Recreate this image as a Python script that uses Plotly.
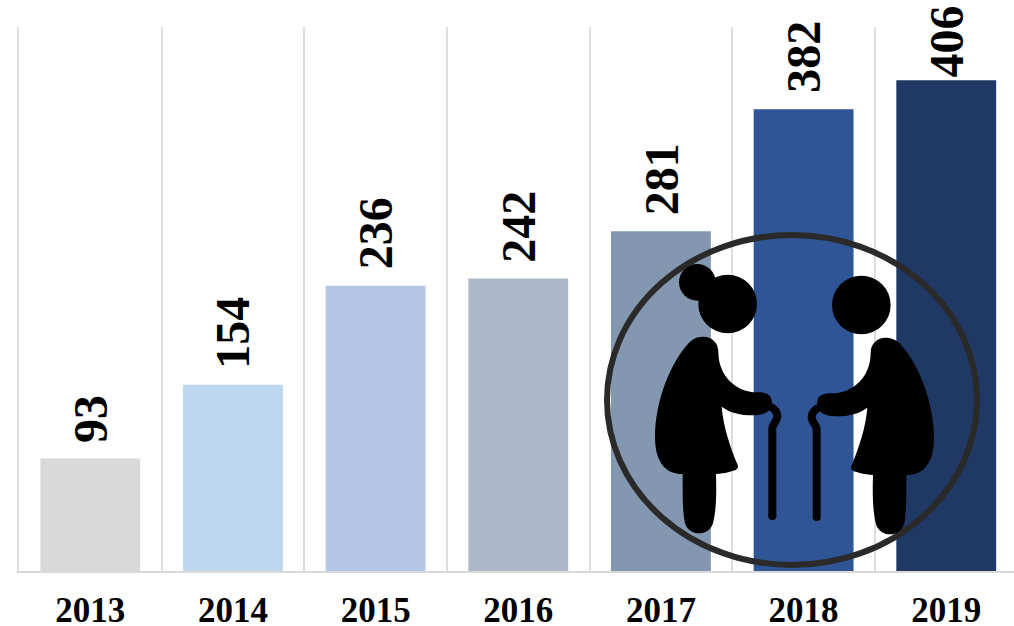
import plotly.graph_objects as go

years = ["2013", "2014", "2015", "2016", "2017", "2018", "2019"]
values = [93, 154, 236, 242, 281, 382, 406]
colors = ["#D9D9D9", "#BDD7EE", "#B4C7E7", "#ADB9CA", "#8497B0", "#2F5597", "#203864"]

W, H = 1014, 626
ML, MT, MB = 19, 27, 55
PW, PH = W - ML, H - MT - MB
FONT = "Liberation Serif"


def px(x):
    return (x - ML) / PW


def py(y):
    return (H - MB - y) / PH


def zoom_pt(x, y, mirror=False):
    # icon outline is drafted on a 3x grid with its origin at pixel (590, 220)
    if mirror:
        x, y = 1227 - x, y + 3
    return f"{px(590 + x / 3):.5f},{py(220 + y / 3):.5f}"


def path(cmds, mirror=False, closed=True):
    out = []
    for c in cmds:
        op, pts = c[0], c[1:]
        out.append(op + " ".join(zoom_pt(a, b, mirror) for a, b in pts))
    return " ".join(out) + (" Z" if closed else "")


body = [
    ("M", (340, 350)),
    ("C", (365, 350), (385, 368), (385, 395)),
    ("C", (385, 470), (440, 516), (500, 517)),
    ("C", (530, 515), (546, 525), (546, 548)),
    ("C", (546, 572), (525, 585), (490, 586)),
    ("C", (450, 586), (420, 578), (395, 560)),
    ("C", (400, 620), (420, 680), (443, 735)),
    ("C", (447, 748), (435, 752), (420, 755)),
    ("C", (405, 759), (390, 761), (378, 762)),
    ("C", (380, 830), (378, 870), (370, 905)),
    ("C", (362, 950), (290, 955), (283, 900)),
    ("C", (277, 860), (278, 810), (278, 762)),
    ("C", (225, 762), (195, 725), (195, 650)),
    ("C", (195, 540), (245, 420), (300, 365)),
    ("C", (312, 354), (325, 350), (340, 350)),
]
cane = [
    ("M", (547, 888)),
    ("L", (547, 625)),
    ("C", (547, 612), (562, 605), (562, 588)),
    ("C", (562, 575), (552, 566), (542, 560)),
]
cane_end = (547, 888)
heads = [(413, 252, 88, False), (322, 187, 55, False), (413, 252, 88, True)]

fig = go.Figure(
    go.Bar(x=years, y=values, marker=dict(color=colors, line=dict(width=0)), width=0.7, showlegend=False)
)

for i, v in enumerate(values):
    fig.add_annotation(
        x=i, y=v, text=f"<b>{v}</b>", textangle=-90, showarrow=False,
        yanchor="bottom", xanchor="center", yshift=1 if v == max(values) else 14,
        font=dict(family=FONT, size=48, color="#000000"),
    )

shapes = []
# icon: the enclosing ring, then the two figures
shapes.append(dict(type="circle", xref="paper", yref="paper", x0=px(607), x1=px(977), y0=py(565), y1=py(235),
                   line=dict(color="#2A2A2A", width=6), fillcolor="rgba(0,0,0,0)"))
for mirror in (False, True):
    shapes.append(dict(type="path", xref="paper", yref="paper", path=path(body, mirror),
                       fillcolor="#000000", line=dict(width=0)))
    shapes.append(dict(type="path", xref="paper", yref="paper", path=path(cane, mirror, closed=False),
                       fillcolor="rgba(0,0,0,0)", line=dict(color="#000000", width=8)))
    cx, cy = cane_end
    if mirror:
        cx, cy = 1227 - cx, cy + 3
    x, y = 590 + cx / 3, 220 + cy / 3
    shapes.append(dict(type="circle", xref="paper", yref="paper", x0=px(x - 4), x1=px(x + 4), y0=py(y + 4), y1=py(y - 4),
                       fillcolor="#000000", line=dict(width=0)))
for cx, cy, r, mirror in heads:
    if mirror:
        cx, cy = 1227 - cx, cy + 3
    x, y, rp = 590 + cx / 3, 220 + cy / 3, r / 3
    shapes.append(dict(type="circle", xref="paper", yref="paper", x0=px(x - rp), x1=px(x + rp), y0=py(y + rp), y1=py(y - rp),
                       fillcolor="#000000", line=dict(width=0)))

fig.update_layout(
    width=W, height=H, margin=dict(l=ML, r=0, t=MT, b=MB, pad=0),
    paper_bgcolor="#FFFFFF", plot_bgcolor="#FFFFFF", shapes=shapes,
    xaxis=dict(
        type="category", categoryorder="array", categoryarray=years, range=[-0.5, 6.475],
        tickson="boundaries", showgrid=True, gridcolor="#DEDEDE", gridwidth=2,
        showline=True, linecolor="#D9D9D9", linewidth=2, zeroline=False,
        ticks="", ticklabelstandoff=7, tickangle=0, automargin=False,
        tickfont=dict(family=FONT, size=35, color="#000000"),
        tickvals=years, ticktext=[f"<b>{y}</b>" for y in years],
    ),
    yaxis=dict(range=[0, 450], showticklabels=False, ticks="", showgrid=False, zeroline=False,
               showline=True, linecolor="#DEDEDE", linewidth=2, automargin=False),
)

fig.write_html("out.html", config=dict(displayModeBar=False), post_script="document.body.style.margin='0';")
